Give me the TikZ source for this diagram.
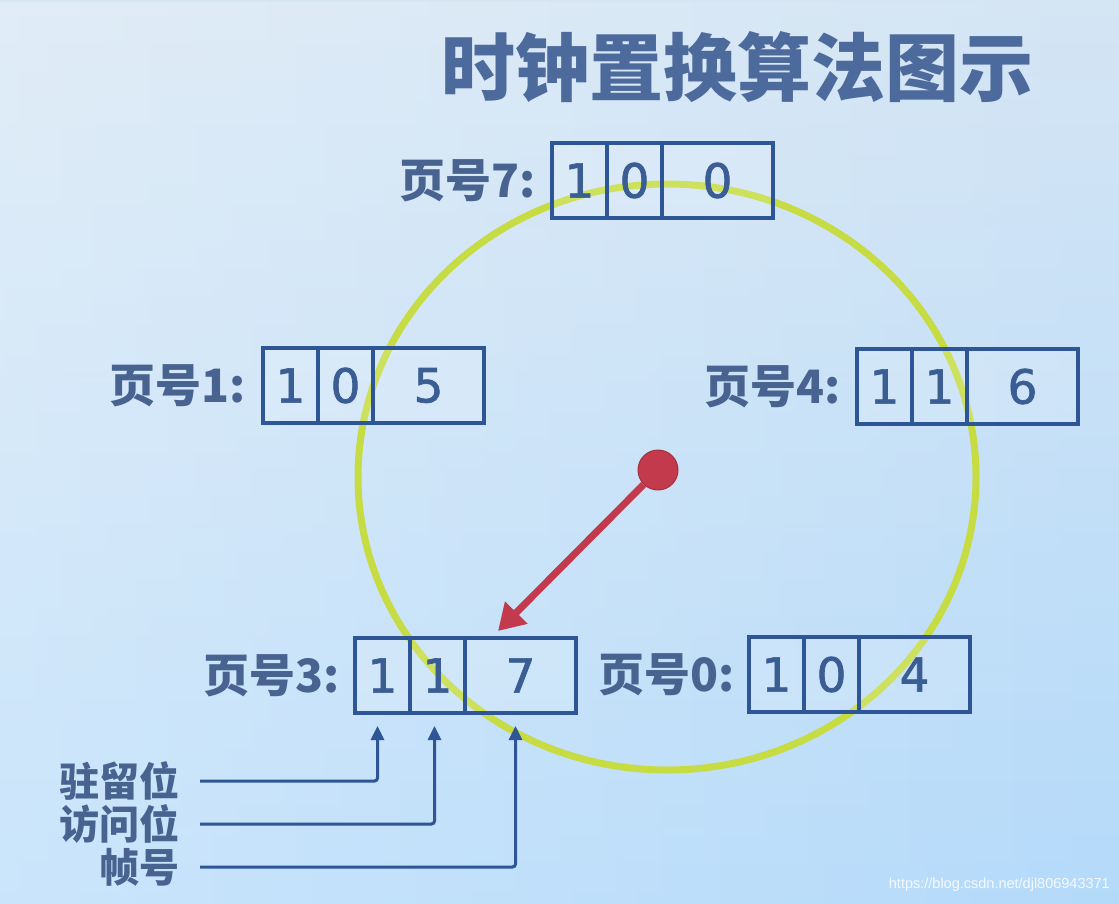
\documentclass[tikz,border=0pt]{standalone}
\usepackage{fontspec}
\newfontfamily\cjk{Noto Sans CJK SC}
\newfontfamily\digitfont[FakeBold=1.5]{DejaVu Sans}
\newfontfamily\wmfont{Liberation Sans}
\usetikzlibrary{arrows.meta,fadings}
\definecolor{boxblue}{HTML}{2E5596}
\definecolor{digitblue}{HTML}{3A5D94}
\definecolor{labelblue}{HTML}{48638F}
\definecolor{titleblue}{HTML}{4D6A9C}
\definecolor{ringgreen}{HTML}{C6DC42}
\definecolor{pointred}{HTML}{C23A4B}
\definecolor{bgtop}{HTML}{D4E5F4}
\definecolor{bgbottom}{HTML}{B4DAFA}
\begin{document}
\begin{tikzpicture}[x=1pt,y=-1pt,
  cellbox/.style={draw=boxblue, line width=3.5pt, minimum width=55pt, minimum height=75pt,
    inner sep=0pt, outer sep=0pt, fill=white, fill opacity=0.15, text opacity=1,
    text=digitblue, font=\digitfont\fontsize{47}{47}\selectfont},
  widecell/.style={cellbox, minimum width=111pt},
  pagelabel/.style={anchor=east, inner sep=0pt, text=labelblue,
    font=\cjk\bfseries\fontsize{46}{46}\selectfont},
  sidelabel/.style={anchor=east, inner sep=0pt, text=labelblue,
    font=\cjk\bfseries\fontsize{40}{40}\selectfont},
  bluearrow/.style={draw=boxblue, line width=3pt, rounded corners=3pt,
    -{Triangle[length=14pt,width=13pt]}},
  redarrow/.style={draw=pointred, line width=7pt, -{Triangle[length=26pt,width=30pt]}}
]
\useasboundingbox (0,0) rectangle (1119,904);
% background
\shade[top color=bgtop, bottom color=bgbottom] (0,0) rectangle (1119,904);
\fill[white, opacity=0.3, path fading=east] (0,0) rectangle (1119,904);

% title
\node[font=\cjk\bfseries\fontsize{74}{74}\selectfont, text=titleblue, inner sep=0pt] (title) at (737,67) {时钟置换算法图示};

% clock ring
\draw[ringgreen, line width=7pt] (667,477) ellipse [x radius=309pt, y radius=293pt];

% page 7
\node[cellbox, anchor=north west] (p7a) at (552,143) {1};
\node[cellbox, anchor=west] (p7b) at (p7a.east) {0};
\node[widecell, anchor=west] (p7c) at (p7b.east) {0};
\node[pagelabel] (l7) at ([xshift=-16pt]p7a.west) {页号7:};

% page 1
\node[cellbox, anchor=north west] (p1a) at (263,348) {1};
\node[cellbox, anchor=west] (p1b) at (p1a.east) {0};
\node[widecell, anchor=west] (p1c) at (p1b.east) {5};
\node[pagelabel] (l1) at ([xshift=-17pt]p1a.west) {页号1:};

% page 4
\node[cellbox, anchor=north west] (p4a) at (857,349) {1};
\node[cellbox, anchor=west] (p4b) at (p4a.east) {1};
\node[widecell, anchor=west] (p4c) at (p4b.east) {6};
\node[pagelabel] (l4) at ([xshift=-16pt]p4a.west) {页号4:};

% page 3
\node[cellbox, anchor=north west] (p3a) at (355,638) {1};
\node[cellbox, anchor=west] (p3b) at (p3a.east) {1};
\node[widecell, anchor=west] (p3c) at (p3b.east) {7};
\node[pagelabel] (l3) at ([xshift=-15pt]p3a.west) {页号3:};

% page 0
\node[cellbox, anchor=north west] (p0a) at (749,637) {1};
\node[cellbox, anchor=west] (p0b) at (p0a.east) {0};
\node[widecell, anchor=west] (p0c) at (p0b.east) {4};
\node[pagelabel] (l0) at ([xshift=-14pt]p0a.west) {页号0:};

% clock hand
\node[circle, fill=pointred, draw=pointred!85!black, line width=1pt, minimum size=40pt, inner sep=0pt] (hub) at (658,470) {};
\coordinate (tip) at (498,631);
\draw[redarrow] (hub) -- (tip);

% field labels
\node[sidelabel] (r1) at (180,781) {驻留位};
\node[sidelabel] (r2) at (180,824) {访问位};
\node[sidelabel] (r3) at (180,867) {帧号};
\draw[bluearrow] ([xshift=20pt]r1.east) -| ([xshift=-5pt,yshift=-13pt]p3a.south);
\draw[bluearrow] ([xshift=20pt]r2.east) -| ([xshift=-3pt,yshift=-13pt]p3b.south);
\draw[bluearrow] ([xshift=20pt]r3.east) -| ([xshift=-5pt,yshift=-13pt]p3c.south);

% watermark
\node[font=\wmfont\fontsize{14.5}{14.5}\selectfont, text=white, text opacity=0.85, anchor=east, inner sep=0pt] (wm) at (1110,885) {https://blog.csdn.net/djl806943371};
\end{tikzpicture}
\end{document}
